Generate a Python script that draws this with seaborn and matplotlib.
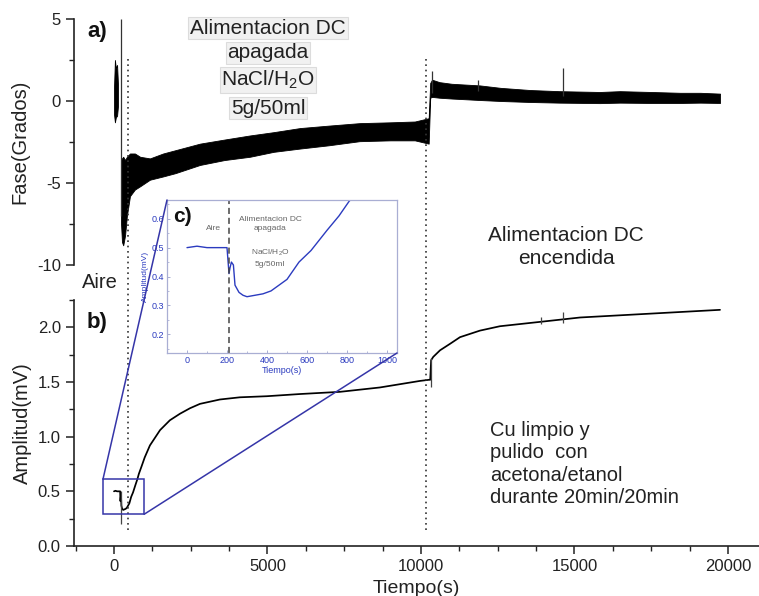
import numpy as np
import pandas as pd
import matplotlib
matplotlib.use("Agg")
import matplotlib.pyplot as plt
import seaborn as sns
from matplotlib.patches import Rectangle, ConnectionPatch
from matplotlib.ticker import MultipleLocator
import matplotlib.transforms as mtransforms

# ---------------- data ----------------
# Phase (a): noisy band described by its upper / lower envelope
phase_pre_t = [0, 30, 60, 100, 130]
phase_pre_hi = [0.8, 2.5, 2.0, 2.2, 1.0]
phase_pre_lo = [-0.8, -1.3, -1.0, -0.9, -0.3]

phase_t = [230, 260, 300, 360, 420, 520, 680, 850, 1170, 1600, 2000, 2800, 3600,
           4430, 5200, 6060, 7000, 8000, 9000, 9800, 10250,
           10300, 10360, 10600, 11000, 11920, 12600, 13550, 14500, 15830,
           16480, 17500, 18440, 19100, 19740]
phase_hi = [-3.6, -3.5, -3.4, -3.6, -3.4, -3.2, -3.2, -3.4, -3.5, -3.2, -3.0, -2.6, -2.35,
            -2.1, -1.9, -1.65, -1.5, -1.35, -1.3, -1.25, -1.05,
            1.1, 1.3, 1.15, 1.05, 0.95, 0.8, 0.67, 0.6, 0.55,
            0.6, 0.55, 0.5, 0.5, 0.45]
phase_lo = [-7.5, -8.6, -8.8, -8.2, -7.0, -5.8, -5.4, -5.2, -4.8, -4.6, -4.4, -3.9, -3.6,
            -3.4, -3.1, -2.9, -2.7, -2.45, -2.4, -2.4, -2.6,
            0.2, 0.25, 0.2, 0.15, 0.06, 0.0, -0.06, -0.1, -0.13,
            -0.1, -0.12, -0.12, -0.1, -0.12]

phase_spike_t = [215, 10360, 11860, 14620]
phase_spike_lo = [-7.0, 0.5, 0.6, 0.3]
phase_spike_hi = [5.0, 1.8, 1.3, 2.0]

# Amplitude (b)
amp_t = [0, 50, 100, 150, 200, 210, 215, 222, 232, 240, 248, 260, 280, 300, 340, 380,
         420, 460, 500, 560, 620, 700, 760, 810, 900, 1000, 1170, 1500, 1820, 2150,
         2475, 2800, 3450, 4100, 4980, 6060, 7360, 8660, 9970, 10260, 10300, 10330,
         10400, 10620, 10950, 11270, 11920, 12570, 13880, 15180, 16480, 17780, 19740]
amp_v = [0.50, 0.505, 0.50, 0.50, 0.50, 0.41, 0.43, 0.45, 0.44, 0.37, 0.36, 0.345,
         0.335, 0.33, 0.335, 0.34, 0.35, 0.37, 0.39, 0.45, 0.49, 0.56, 0.61, 0.66,
         0.73, 0.81, 0.92, 1.06, 1.15, 1.21, 1.26, 1.30, 1.34, 1.36, 1.37, 1.39,
         1.41, 1.45, 1.51, 1.52, 1.52, 1.70, 1.73, 1.79, 1.85, 1.91, 1.97, 2.01,
         2.05, 2.09, 2.11, 2.13, 2.16]
amp_spike_t = [218, 10330, 13900, 14620]
amp_spike_lo = [0.20, 1.45, 2.03, 2.04]
amp_spike_hi = [0.50, 1.72, 2.09, 2.14]

event_t = [456, 10160]          # dotted vertical markers
inset_event_t = 210             # dashed line in inset
zoom_box = (-360, 980, 0.29, 0.61)   # x0, x1, y0, y1 of the zoom rectangle

# ---------------- style ----------------
sns.set_theme(style="ticks")
plt.rcParams["font.family"] = ["Liberation Sans", "DejaVu Sans"]
plt.rcParams["mathtext.fontset"] = "custom"
plt.rcParams["mathtext.rm"] = "Liberation Sans"
plt.rcParams["axes.unicode_minus"] = False

W, H = 759, 596
def fx(px): return px / W
def fy(py): return 1 - py / H

fig = plt.figure(figsize=(W / 100, H / 100), dpi=100)
ax_a = fig.add_axes([fx(74), fy(265), fx(759) - fx(74), fy(19) - fy(265)])
ax_b = fig.add_axes([fx(74), fy(546), fx(759) - fx(74), fy(300) - fy(546)])

XL = (-1303, 21010)
txt_col = "#222222"

# ---- panel a ----
ax_a.fill_between(phase_pre_t, phase_pre_lo, phase_pre_hi, color="black", lw=0.6)
ax_a.fill_between(phase_t, phase_lo, phase_hi, color="black", lw=0.6)
ax_a.vlines(phase_spike_t, phase_spike_lo, phase_spike_hi, color="#333333", lw=0.9)
ax_a.set_xlim(*XL)
ax_a.set_ylim(-10, 5)
for s in ["top", "right", "bottom"]:
    ax_a.spines[s].set_visible(False)
ax_a.yaxis.set_major_locator(MultipleLocator(5))
ax_a.yaxis.set_minor_locator(MultipleLocator(2.5))

# ---- panel b ----
df_amp = pd.DataFrame({"t": amp_t, "amp": amp_v})
sns.lineplot(data=df_amp, x="t", y="amp", ax=ax_b, color="black", lw=1.25,
             estimator=None, sort=False)
ax_b.vlines(amp_spike_t, amp_spike_lo, amp_spike_hi, color="#444444", lw=0.9)
ax_b.set_xlim(*XL)
ax_b.set_ylim(0, 2.25)
for s in ["top", "right"]:
    ax_b.spines[s].set_visible(False)
ax_b.xaxis.set_major_locator(MultipleLocator(5000))
ax_b.xaxis.set_minor_locator(MultipleLocator(1250))
ax_b.yaxis.set_major_locator(MultipleLocator(0.5))
ax_b.yaxis.set_minor_locator(MultipleLocator(0.25))
ax_b.yaxis.set_major_formatter(matplotlib.ticker.FormatStrFormatter("%.1f"))
ax_b.set_xlabel("Tiempo(s)", fontsize=14, color=txt_col)
ax_b.xaxis.set_label_coords(0.5, -0.14)
ax_b.set_ylabel("")
ax_a.set_ylabel("")

for ax in (ax_a, ax_b):
    for s in ["left", "bottom"]:
        ax.spines[s].set_color("#222222")
        ax.spines[s].set_linewidth(1.2)
    ax.tick_params(which="major", direction="out", length=6, width=1.1,
                   labelsize=12, colors="#222222")
    ax.tick_params(which="minor", direction="out", length=3.5, width=1.0,
                   colors="#222222")
    ax.set_facecolor("none")
ax_a.tick_params(axis="x", which="both", bottom=False, labelbottom=False)

fig.text(fx(20), fy(142), "Fase(Grados)", rotation=90, ha="center", va="center",
         fontsize=14.5, color=txt_col)
fig.text(fx(22), fy(423), "Amplitud(mV)", rotation=90, ha="center", va="center",
         fontsize=14.5, color=txt_col)

# dotted event lines across both panels
trans = mtransforms.blended_transform_factory(ax_b.transData, fig.transFigure)
for t in event_t:
    ax_b.plot([t, t], [fy(530), fy(58)], transform=trans, color="#333333",
              ls=(0, (1, 2.2)), lw=1.2, clip_on=False, zorder=5)

# annotations
fig.text(fx(97), fy(32), "a)", fontsize=16, fontweight="bold", ha="center",
         va="center", color="#111111")
fig.text(fx(97), fy(322), "b)", fontsize=16, fontweight="bold", ha="center",
         va="center", color="#111111")
box = dict(boxstyle="square,pad=0.08", facecolor="#f1f1f1", edgecolor="#dcdcdc", lw=0.8)
for label, py in [("Alimentacion DC", 28), ("apagada", 53),
                  (r"NaCl/H$_\mathregular{2}$O", 80), ("5g/50ml", 108)]:
    fig.text(fx(268), fy(py), label, fontsize=15, ha="center", va="center",
             color=txt_col, bbox=box)
fig.text(fx(100), fy(282), "Aire", fontsize=14.5, ha="center", va="center", color=txt_col)
fig.text(fx(566), fy(247), "Alimentacion DC\nencendida", fontsize=15, ha="center",
         va="center", color=txt_col, linespacing=1.25)
fig.text(fx(490), fy(464), "Cu limpio y\npulido  con\nacetona/etanol\ndurante 20min/20min",
         fontsize=14.5, ha="left", va="center", color=txt_col, linespacing=1.22)

# ---- inset c ----
blue = "#2b3bbf"
frame = "#a9aed3"
ax_in = fig.add_axes([fx(167), fy(353), fx(397) - fx(167), fy(200) - fy(353)])
inset_mask = [t <= 1100 for t in amp_t]
df_in = df_amp[inset_mask]
sns.lineplot(data=df_in, x="t", y="amp", ax=ax_in, color=blue, lw=1.0,
             estimator=None, sort=False)
ax_in.axvline(inset_event_t, color="#444444", ls=(0, (4, 2.5)), lw=1.1)
ax_in.set_xlim(-100, 1050)
ax_in.set_ylim(0.135, 0.665)
ax_in.xaxis.set_major_locator(MultipleLocator(200))
ax_in.xaxis.set_minor_locator(MultipleLocator(100))
ax_in.yaxis.set_major_locator(MultipleLocator(0.1))
ax_in.yaxis.set_minor_locator(MultipleLocator(0.05))
ax_in.yaxis.set_major_formatter(matplotlib.ticker.FormatStrFormatter("%.1f"))
for s in ax_in.spines.values():
    s.set_color(frame)
    s.set_linewidth(0.9)
ax_in.tick_params(which="major", direction="in", length=2.5, width=0.7,
                  labelsize=6.5, colors=frame, labelcolor=blue, pad=2)
ax_in.tick_params(which="minor", direction="in", length=1.5, width=0.6, colors=frame)
ax_in.set_xlabel("Tiempo(s)", fontsize=6.5, color=blue, labelpad=1)
ax_in.set_ylabel("Amplitud(mV)", fontsize=6, color=blue, labelpad=2)
ax_in.set_facecolor("white")
fig.text(fx(182), fy(217), "c)", fontsize=15, fontweight="bold", ha="center",
         va="center", color="#111111")
grey = "#666666"
fig.text(fx(213), fy(228), "Aire", fontsize=6, ha="center", va="center", color=grey)
fig.text(fx(270), fy(224), "Alimentacion DC\napagada", fontsize=6, ha="center",
         va="center", color=grey, linespacing=1.35)
fig.text(fx(270), fy(258), "NaCl/H$_\\mathregular{2}$O\n5g/50ml", fontsize=6,
         ha="center", va="center", color=grey, linespacing=1.6)

# zoom rectangle and connectors
zc = "#3535a8"
x0, x1, y0, y1 = zoom_box
ax_b.add_patch(Rectangle((x0, y0), x1 - x0, y1 - y0, fill=False, edgecolor=zc,
                         lw=1.1, zorder=6))
for (xa, ya), (xb, yb) in [((x0, y1), (0, 1)), ((x1, y0), (1, 0))]:
    con = ConnectionPatch(xyA=(xa, ya), coordsA=ax_b.transData,
                          xyB=(xb, yb), coordsB=ax_in.transAxes,
                          color=zc, lw=1.1, zorder=10)
    fig.add_artist(con)

fig.savefig("out.png", dpi=100)
